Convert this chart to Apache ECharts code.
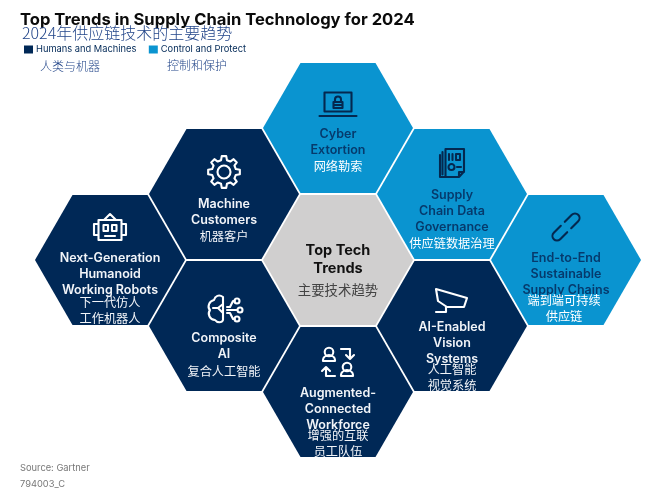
<!DOCTYPE html>
<html>
<head>
<meta charset="utf-8">
<style>html,body{margin:0;padding:0;background:#fff}#c{width:660px;height:495px}</style>
<script src="https://cdn.jsdelivr.net/npm/echarts@6/dist/echarts.min.js"></script>
</head>
<body>
<div id="c"></div>
<script>
// ---- data ----
const names = [
  ['Cyber','Extortion'],
  ['Supply','Chain Data','Governance'],
  ['End-to-End','Sustainable','Supply Chains'],
  ['Next-Generation','Humanoid','Working Robots'],
  ['Machine','Customers'],
  ['Composite','AI'],
  ['Augmented-','Connected','Workforce'],
  ['AI-Enabled','Vision','Systems'],
  ['Top Tech','Trends']
];
const namesZh = [
  ['网络勒索'],
  ['供应链数据治理'],
  ['端到端可持续','供应链'],
  ['下一代仿人','工作机器人'],
  ['机器客户'],
  ['复合人工智能'],
  ['增强的互联','员工队伍'],
  ['人工智能','视觉系统'],
  ['主要技术趋势']
];
const cols = [0,1,2,-2,-1,-1,0,1,0];
const rows = [2,1,0,0,1,-1,-2,-1,0];
const humans = [3,4,5,6,7];
const control = [0,1,2];
const centre = [8];
const legendNames = ['Humans and Machines','Control and Protect'];
const legendZh = ['人类与机器','控制和保护'];
const titleEn = 'Top Trends in Supply Chain Technology for 2024';
const titleZh = '2024年供应链技术的主要趋势';
const sourceLines = ['Source: Gartner','794003_C'];

// ---- layout (pixel offsets from each cell centre, not data) ----
const iconY = [-25,-31,-33,-32,-22,-17,-30,-25,0];
const textY = [6,1,-2,-2,10,12,1,1,-9];
const zhY   = [38,49,40,42,42,45,43,43,30];
const zhX   = [0,0,-2,0,0,0,0,0,0];
const lineH = 16, zhLineH = 16.5;

// ---- icons (local pixel paths) ----
function gearPath(){
  let d='';const n=8,ro=16,ri=12.2;
  for(let i=0;i<n;i++){
    const a=i/n*2*Math.PI, w=Math.PI/n;
    const pts=[[ri,a-w*0.62],[ro,a-w*0.36],[ro,a+w*0.36],[ri,a+w*0.62]];
    pts.forEach((p,j)=>{
      const x=(p[0]*Math.cos(p[1])).toFixed(2), y=(p[0]*Math.sin(p[1])).toFixed(2);
      d+=(i===0&&j===0?'M':'L')+x+','+y+' ';
    });
  }
  d+='Z M6.5,0 A6.5,6.5 0 1 1 -6.5,0 A6.5,6.5 0 1 1 6.5,0 Z';
  return d;
}
function circ(x,y,r){return `M${x+r},${y} A${r},${r} 0 1 1 ${x-r},${y} A${r},${r} 0 1 1 ${x+r},${y} Z `;}
const icons = [
  'M-13.5,-10.5H13.5V8.5H-13.5Z M-18.5,13H18.5 M-4.5,-1H4.5V5H-4.5Z M-3,-1V-3.5A3,3 0 0 1 3,-3.5V-1 M-3,2H3',
  'M-6.5,-14H12V8.5L7,14H-6.5Z M-9.5,-11V11.5 M-12,-8V14H-4 M-3,-9V-3 M0.5,-9V-3 M4,-9H8V-3H4Z '+circ(-0.5,4,3)+'M5,4H9 M7,14V9H12',
  'M-1.2,-5.2 L5.8,-12.2 A4.5,4.5 0 0 1 12.2,-5.8 L5.2,1.2 M1.2,5.2 L-5.8,12.2 A4.5,4.5 0 0 1 -12.2,5.8 L-5.2,-1.2',
  'M-11.5,-8H11.5V12H-11.5Z M-11.5,-4H-16V7H-11.5 M11.5,-4H16V7H11.5 M-6,-8 L0,-14 L6,-8 M-6.5,-3H-2V3H-6.5Z M2,-3H6.5V3H2Z M-5,8H5',
  gearPath(),
  'M-1,-12 C-5,-15 -9,-13 -10,-9 C-15,-8 -17,-2 -14,1 C-17,5 -14,11 -9,11 C-7,14 -2,14 -1,11 Z M-1,-5 L-6,-1 L-1,4 M-6,-1 H-11 M3,-2 H6 L9,-8 H11 M3,1 H13.5 M3,4 H6 L9,10 H11 '+circ(13,-8,2.5)+circ(16,1,2.5)+circ(13,10,2.5),
  circ(-9,-10,4.3)+'M-15,-1V-2A6,5 0 0 1 -3,-2V-1 M-15,-1H-3 '+circ(9,5,4.3)+'M3,14V13A6,5 0 0 1 15,13V14 M3,14H15 M3,-13H12V-4 M8,-7L12,-3L16,-7 M-3,14H-12V5 M-16,9L-12,5L-8,9',
  'M-16,-12 L15,-3 L12,6 L-5,6 L-14,0 Z M-6,6 V11 H-16',
  ''
];

// ---- styles ----
const NAVY='#002856', BLUE='#0a94d0', GREY='#d0cfcf', ZHBLUE='#23468a';
const CJK='"Noto Sans CJK SC"';
const groupStyle = {
  humans:{fill:NAVY, en:'#f2f5f9', zh:'#f2f5f9', icon:'#ffffff'},
  control:{fill:BLUE, en:'#063a6c', zh:'#ffffff', icon:'#04284f'},
  centre:{fill:GREY, en:'#111111', zh:'#444444', icon:'#111'}
};

function hexSeries(name, members, st){
  return {
    name, type:'custom', coordinateSystem:'cartesian2d', clip:false, silent:true,
    animation:false, encode:{x:0,y:1},
    itemStyle:{color:st.fill},
    data: members.map(i=>[cols[i],rows[i]]),
    renderItem(params, api){
      const i = members[params.dataIndex];
      const c = api.coord([api.value(0),api.value(1)]);
      const s = api.size([1,1]);
      const R = s[0]*0.658, H = s[1]*0.985;
      const pts=[[-R,0],[-R/2,-H],[R/2,-H],[R,0],[R/2,H],[-R/2,H]].map(p=>[c[0]+p[0],c[1]+p[1]]);
      const kids=[{type:'polygon',shape:{points:pts},style:{fill:st.fill,stroke:'none'}}];
      if(icons[i]) kids.push({type:'path',x:c[0],y:c[1]+iconY[i],
        shape:{pathData:icons[i]},
        style:{fill:'none',stroke:st.icon,lineWidth:2.1,lineJoin:'round',lineCap:'round'}});
      const isC = i===8;
      names[i].forEach((t,k)=>kids.push({type:'text',style:{
        x:c[0],y:c[1]+textY[i]+k*(isC?18:lineH),text:t,fill:st.en,align:'center',verticalAlign:'middle',
        font:isC?'700 14.5px Inter':'600 12.5px Inter'}}));
      namesZh[i].forEach((t,k)=>kids.push({type:'text',style:{
        x:c[0]+zhX[i],y:c[1]+zhY[i]+k*zhLineH,text:t,fill:st.zh,align:'center',verticalAlign:'middle',
        font:(isC?'13.4px ':'12.2px ')+CJK}}));
      return {type:'group',children:kids};
    }
  };
}

function label(text,x,y,font,fill){
  return {type:'text',x,y,silent:true,style:{text,font,fill,verticalAlign:'middle'}};
}

const chart = echarts.init(document.getElementById('c'),null,{renderer:'canvas'});
chart.setOption({
  animation:false,
  backgroundColor:'#fff',
  grid:{left:53,top:62,width:570,height:396},
  xAxis:{type:'value',min:-2.5,max:2.5,show:false},
  yAxis:{type:'value',min:-3,max:3,show:false},
  legend:{
    left:21,top:45,itemWidth:9,itemHeight:8,itemGap:12.5,padding:[0,0,0,3],
    icon:'rect',selectedMode:false,data:legendNames,
    textStyle:{fontFamily:'Inter',fontSize:9.3,color:NAVY,padding:[0,0,0,-2]}
  },
  graphic:[
    label(titleEn,20,20,'700 16.6px Inter','#0b0b0b'),
    label(titleZh,22,33,'300 16px '+CJK,ZHBLUE),
    label(legendZh[0],40,66,'300 12px '+CJK,ZHBLUE),
    label(legendZh[1],167,65,'300 12px '+CJK,ZHBLUE),
    label(sourceLines[0],20,468,'9.3px Inter','#777'),
    label(sourceLines[1],20,484,'9.3px Inter','#777')
  ],
  series:[
    hexSeries(legendNames[0],humans,groupStyle.humans),
    hexSeries(legendNames[1],control,groupStyle.control),
    hexSeries('centre',centre,groupStyle.centre)
  ]
});
</script>
</body>
</html>
